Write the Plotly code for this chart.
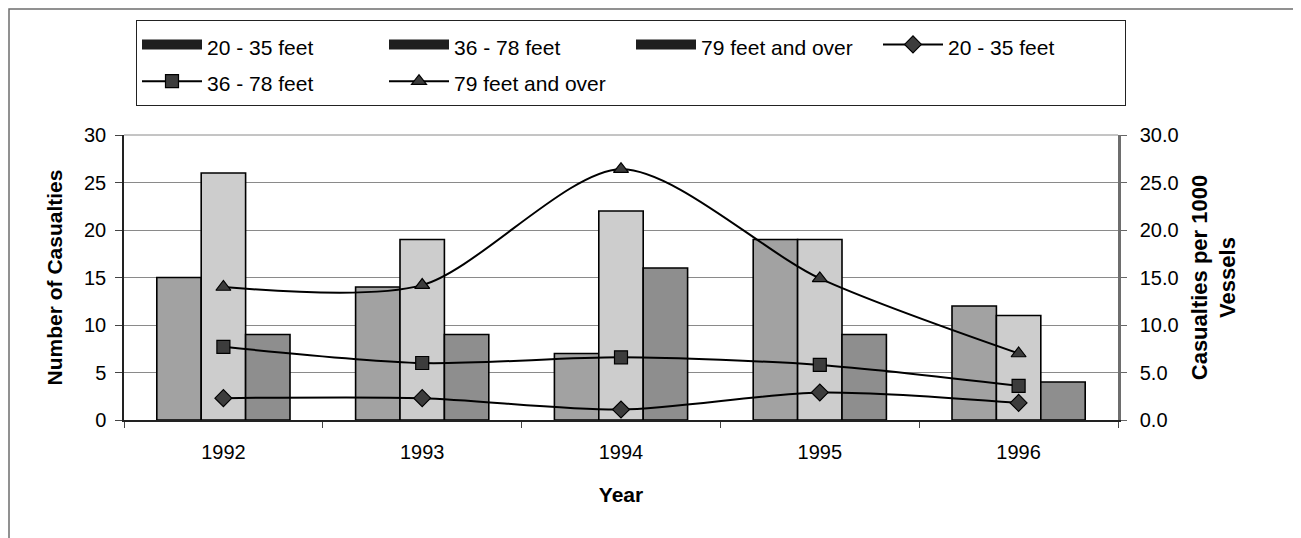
import plotly.graph_objects as go

years = ["1992", "1993", "1994", "1995", "1996"]
series_names = ["20 - 35 feet", "36 - 78 feet", "79 feet and over"]
casualties_20_35 = [15, 14, 7, 19, 12]
casualties_36_78 = [26, 19, 22, 19, 11]
casualties_79_up = [9, 9, 16, 9, 4]
rate_20_35 = [2.3, 2.3, 1.1, 2.9, 1.8]
rate_36_78 = [7.7, 6.0, 6.6, 5.8, 3.6]
rate_79_up = [14.0, 14.2, 26.4, 14.9, 7.0]

bar_values = [casualties_20_35, casualties_36_78, casualties_79_up]
bar_colors = ["#a2a2a2", "#cdcdcd", "#8e8e8e"]
rate_values = [rate_20_35, rate_36_78, rate_79_up]
symbols = ["diamond", "square", "triangle-up"]

W, H = 1301, 538
L, R, T, B = 116, 191, 127, 126
PW, PH = W - L - R, H - T - B


def legend_label(text):
    return '<span style="font-size:21px">' + text + '</span>'


fig = go.Figure()
for name, vals, col in zip(series_names, bar_values, bar_colors):
    fig.add_trace(go.Bar(x=years, y=vals, name=name, showlegend=False,
                         marker=dict(color=col, line=dict(color="black", width=1.6)),
                         offsetgroup=name, legendgroup=name))
# legend entries for the bars: wide black swatches as in the reference
for name in series_names:
    fig.add_trace(go.Scatter(x=[years[0]], y=[None], name=legend_label(name), legendgroup=name,
                             mode="lines", line=dict(color="#1e1e1e", width=12),
                             showlegend=True, hoverinfo="skip"))
for name, vals, sym in zip(series_names, rate_values, symbols):
    fig.add_trace(go.Scatter(x=years, y=vals, name=legend_label(name), yaxis="y2",
                             mode="lines+markers",
                             line=dict(color="black", width=2, shape="spline", smoothing=0.8),
                             marker=dict(symbol=sym, size=13, color="#3c3c3c",
                                         line=dict(color="black", width=1.2))))

fig.update_layout(
    width=W, height=H,
    margin=dict(l=L, r=R, t=T, b=B, autoexpand=False),
    paper_bgcolor="white", plot_bgcolor="white",
    font=dict(family="Liberation Sans, Arial, sans-serif", size=20, color="black"),
    barmode="group", bargap=0.33, bargroupgap=0,
    showlegend=True,
    legend=dict(orientation="h", xref="container", yref="container",
                x=128 / W, xanchor="left", y=1 - 12 / H, yanchor="top",
                bgcolor="white", bordercolor="#222", borderwidth=1,
                font=dict(size=26), entrywidth=172, entrywidthmode="pixels",
                traceorder="normal", itemwidth=60, tracegroupgap=0),
    xaxis=dict(type="category", showline=True, linecolor="#222", linewidth=1.5,
               ticks="outside", ticklen=6, tickcolor="#444", tickson="boundaries",
               tickfont=dict(size=20), ticklabelstandoff=13,
               title=dict(text="<b>Year</b>", font=dict(size=21), standoff=26)),
    yaxis=dict(range=[0, 30], tickvals=[0, 5, 10, 15, 20, 25, 30],
               showline=True, linecolor="#222", linewidth=1.5,
               ticks="outside", ticklen=7, tickcolor="#444",
               tickfont=dict(size=20), ticklabelstandoff=5,
               showgrid=True, gridcolor="#8a8a8a", gridwidth=1,
               zeroline=False,
               title=dict(text="<b>Number of Casualties</b>", font=dict(size=21), standoff=16)),
    yaxis2=dict(range=[0, 30], tickvals=[0, 5, 10, 15, 20, 25, 30],
                tickformat=".1f", overlaying="y", side="right",
                showline=True, linecolor="#6e6e6e", linewidth=2.5,
                ticks="outside", ticklen=6, tickcolor="#666",
                tickfont=dict(size=20), ticklabelstandoff=9,
                showgrid=False, zeroline=False,
                title=dict(text="<b>Casualties per 1000<br>Vessels</b>", font=dict(size=22), standoff=14)),
    shapes=[
        dict(type="rect", xref="paper", yref="paper",
             x0=(1 - L) / PW, x1=(W + 20 - L) / PW, y0=-(B + 20) / PH, y1=1 + (T - 1) / PH,
             line=dict(color="#6e6e6e", width=1.5), fillcolor="rgba(0,0,0,0)", layer="below"),
        dict(type="line", xref="paper", yref="paper", x0=0, x1=1, y0=1, y1=1,
             line=dict(color="#8a8a8a", width=1), layer="below"),
    ],
)

fig.write_html("out.html")
